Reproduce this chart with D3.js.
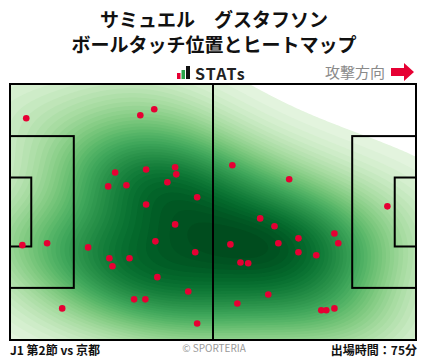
<!DOCTYPE html>
<html>
<head>
<meta charset="utf-8">
<script src="https://cdn.jsdelivr.net/npm/d3@7"></script>
<style>
  body { margin: 0; background: #fff; }
  svg text { font-family: "Noto Sans CJK JP", "Noto Sans", sans-serif; }
</style>
</head>
<body>
<div id="chart"></div>
<script>
// touch positions in pitch metres (105 x 68), attacking left -> right
const touchX = [4.2, 33.7, 37.3, 27.2, 35.2, 42.7, 43.0, 25.4, 30.1, 40.7, 48.4, 35.2, 42.7, 37.6, 47.9, 3.2,
  9.6, 20.2, 25.7, 30.9, 26.5, 38.1, 46.1, 32.1, 35.0, 13.5, 48.4, 57.5, 72.2, 97.6, 64.7, 68.4,
  57.0, 69.4, 74.6, 74.6, 79.2, 83.9, 84.9, 59.6, 61.6, 66.8, 58.8, 80.5, 81.8, 83.9]
const touchY = [9.1, 8.3, 6.7, 23.5, 22.7, 22.1, 24.0, 27.2, 26.9, 26.1, 30.1, 32.0, 37.3, 41.8, 44.7, 42.8,
  42.3, 43.4, 46.3, 46.3, 48.4, 51.3, 55.1, 57.2, 57.2, 59.6, 63.6, 21.6, 25.3, 32.5, 35.7, 37.8,
  42.6, 42.3, 41.0, 44.7, 45.5, 39.7, 42.3, 47.4, 47.6, 55.9, 58.3, 60.1, 60.1, 59.6]

const titleLines = ['サミュエル　グスタフソン', 'ボールタッチ位置とヒートマップ']
const matchLabel = 'J1 第2節 vs 京都'
const minutesLabel = '出場時間：75分'

const W = 428, H = 359;
const pitchL = 10, pitchR = 416, pitchT = 84, pitchB = 340;

const svg = d3.select('#chart').append('svg')
  .attr('width', W).attr('height', H);

const xScale = d3.scaleLinear().domain([0, 105]).range([pitchL, pitchR]);
const yScale = d3.scaleLinear().domain([0, 68]).range([pitchT, pitchB]);

// title
svg.selectAll('.title')
  .data(titleLines)
  .enter()
  .append('text')
  .attr('x', W / 2)
  .attr('y', (d, i) => 27 + i * 25)
  .attr('text-anchor', 'middle')
  .attr('font-size', 19)
  .attr('font-weight', 700)
  .attr('fill', '#111')
  .text(d => d);

// STATs logo
const logo = svg.append('g');
logo.append('rect').attr('x', 177).attr('y', 73).attr('width', 3.5).attr('height', 6).attr('fill', '#e60033');
logo.append('rect').attr('x', 181.5).attr('y', 70).attr('width', 3.5).attr('height', 9).attr('fill', '#2aa44a');
logo.append('rect').attr('x', 186).attr('y', 66).attr('width', 4).attr('height', 13).attr('fill', '#111');
logo.append('text')
  .attr('x', 195).attr('y', 79.5)
  .attr('font-size', 16).attr('font-weight', 700)
  .attr('font-family', '"DejaVu Sans", sans-serif')
  .attr('letter-spacing', 1.2)
  .attr('fill', '#222')
  .text('STATs');

// attack direction
svg.append('text')
  .attr('x', 385).attr('y', 78)
  .attr('text-anchor', 'end')
  .attr('font-size', 15)
  .attr('fill', '#8a8a8a')
  .text('攻撃方向');
svg.append('path')
  .attr('d', 'M391,68 L404,68 L404,63 L414,72 L404,81 L404,76 L391,76 Z')
  .attr('fill', '#e60033');

// ---- heatmap (gaussian kde from the touches) ----
const n = touchX.length;
const mx = d3.mean(touchX), my = d3.mean(touchY);
let sxx = 0, syy = 0, sxy = 0;
for (let i = 0; i < n; i++) {
  sxx += (touchX[i] - mx) ** 2;
  syy += (touchY[i] - my) ** 2;
  sxy += (touchX[i] - mx) * (touchY[i] - my);
}
sxx /= (n - 1); syy /= (n - 1); sxy /= (n - 1);
const bwAdjust = 1.3;
const f2 = Math.pow(n, -1 / 3) * bwAdjust * bwAdjust; // scott factor squared
const cxx = sxx * f2, cyy = syy * f2, cxy = sxy * f2;
const det = cxx * cyy - cxy * cxy;
const ixx = cyy / det, iyy = cxx / det, ixy = -cxy / det;

const cell = 2;
const nx = Math.ceil((pitchR - pitchL) / cell), ny = Math.ceil((pitchB - pitchT) / cell);
const values = new Float64Array(nx * ny);
for (let j = 0; j < ny; j++) {
  for (let i = 0; i < nx; i++) {
    const px = xScale.invert(pitchL + (i + 0.5) * cell);
    const py = yScale.invert(pitchT + (j + 0.5) * cell);
    let s = 0;
    for (let k = 0; k < n; k++) {
      const dx = px - touchX[k], dy = py - touchY[k];
      s += Math.exp(-0.5 * (ixx * dx * dx + 2 * ixy * dx * dy + iyy * dy * dy));
    }
    values[j * nx + i] = s;
  }
}
const vmax = d3.max(values);
const nLevels = 40;
const lowCut = 0.035;
const thresholds = d3.range(nLevels).map(i => vmax * (lowCut + (1 - lowCut) * i / nLevels));
const color = d3.scaleSequentialPow(d3.interpolateGreens).exponent(0.75).domain([0, vmax * 1.04]);

const clip = svg.append('clipPath').attr('id', 'pitch-clip');
clip.append('rect')
  .attr('x', pitchL).attr('y', pitchT)
  .attr('width', pitchR - pitchL).attr('height', pitchB - pitchT);

const contours = d3.contours().size([nx, ny]).thresholds(thresholds)(values);
const path = d3.geoPath(d3.geoIdentity().scale(cell).translate([pitchL, pitchT]));

svg.append('g')
  .attr('clip-path', 'url(#pitch-clip)')
  .selectAll('path')
  .data(contours)
  .enter()
  .append('path')
  .attr('d', path)
  .attr('fill', d => color(d.value + vmax * 0.03))
  .attr('stroke', 'none');

// ---- pitch lines ----
const lines = svg.append('g')
  .attr('fill', 'none')
  .attr('stroke', '#000')
  .attr('stroke-width', 2);

lines.append('rect')
  .attr('x', xScale(0)).attr('y', yScale(0))
  .attr('width', xScale(105) - xScale(0)).attr('height', yScale(68) - yScale(0));
lines.append('line')
  .attr('x1', xScale(52.5)).attr('x2', xScale(52.5))
  .attr('y1', yScale(0)).attr('y2', yScale(68));

const boxes = [
  [0, 16.5, 13.84, 54.16],
  [0, 5.5, 24.84, 43.16],
  [88.5, 105, 13.84, 54.16],
  [99.5, 105, 24.84, 43.16]
];
lines.selectAll('.box')
  .data(boxes)
  .enter()
  .append('rect')
  .attr('x', d => xScale(d[0]))
  .attr('y', d => yScale(d[2]))
  .attr('width', d => xScale(d[1]) - xScale(d[0]))
  .attr('height', d => yScale(d[3]) - yScale(d[2]));

// ---- touches ----
svg.append('g')
  .selectAll('circle')
  .data(d3.range(n))
  .enter()
  .append('circle')
  .attr('cx', i => xScale(touchX[i]))
  .attr('cy', i => yScale(touchY[i]))
  .attr('r', 3.3)
  .attr('fill', '#e60033');

// ---- footer ----
svg.append('text')
  .attr('x', 10).attr('y', 355)
  .attr('font-size', 12).attr('font-weight', 700)
  .attr('fill', '#111')
  .text(matchLabel);
svg.append('text')
  .attr('x', 214).attr('y', 352)
  .attr('text-anchor', 'middle')
  .attr('font-size', 10)
  .attr('fill', '#999')
  .text('© SPORTERIA');
svg.append('text')
  .attr('x', 417).attr('y', 355)
  .attr('text-anchor', 'end')
  .attr('font-size', 12).attr('font-weight', 700)
  .attr('fill', '#111')
  .text(minutesLabel);
</script>
</body>
</html>
